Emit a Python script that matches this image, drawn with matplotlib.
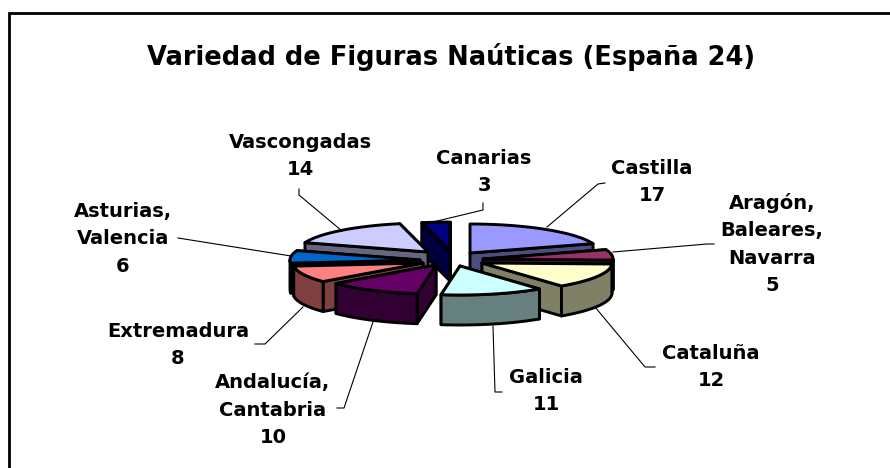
import numpy as np
import matplotlib
matplotlib.use("Agg")
import matplotlib.pyplot as plt
from matplotlib.patches import Polygon

# Data
names = ["Castilla", "Aragón,\nBaleares,\nNavarra", "Cataluña", "Galicia", "Andalucía,\nCantabria",
         "Extremadura", "Asturias,\nValencia", "Vascongadas", "Canarias"]
values = [17, 5, 12, 11, 10, 8, 6, 14, 3]
top_colors = ["#9999FF", "#993366", "#FFFFCC", "#CCFFFF", "#660066", "#FF8080", "#0066CC", "#CCCCFF", "#000080"]
wall_colors = ["#4D4D80", "#4D1A33", "#808066", "#668080", "#330033", "#804040", "#003366", "#666680", "#000040"]

# apex of each exploded slice, picture pixels
apex_x = [470, 483, 482, 460, 436, 423, 420, 428, 450]
apex_y = [253, 259, 263, 266, 265, 263, 260, 252, 251]
draw_order = [8, 0, 7, 6, 1, 5, 2, 4, 3]

label_x = [652, 772, 711, 546, 273, 178, 123, 300, 484]
label_y = [182, 244, 367, 391, 410, 345, 239, 156, 172]
leader_x = [[605, 598, 547], [714, 707, 613], [655, 645, 595], [502, 495, 493], [337, 344, 373],
            [255, 265, 303], [178, 291], [299, 299, 342], [483, 483, 433]]
leader_y = [[183, 184, 227], [244, 244, 252], [367, 367, 307], [392, 392, 326], [408, 408, 322],
            [344, 344, 307], [238, 256], [189, 195, 231], [203, 210, 222]]

RX, RY, DEPTH = 130, 29, 30

fig = plt.figure(figsize=(8.9, 4.68), dpi=100)
ax = fig.add_axes([0, 0, 1, 1])
ax.set_xlim(0, 890)
ax.set_ylim(468, 0)
ax.axis("off")

# the frame only shows on the top and left
ax.plot([8.5, 8.5, 890], [468, 12.5, 12.5], color="black", lw=2.0, solid_joinstyle="miter")


def rim(cx, cy, a0, a1):
    th = np.radians(np.linspace(a0, a1, 40))
    return cx + RX * np.sin(th), cy - RY * np.cos(th)


def face(xs, ys, color, z):
    ax.add_patch(Polygon(np.column_stack([xs, ys]), closed=True, fc=color, ec="black", lw=2.1,
                         joinstyle="round", zorder=z))


edges = np.concatenate([[0], np.cumsum(values)]) / sum(values) * 360
for rank, i in enumerate(draw_order):
    cx, cy = apex_x[i], apex_y[i]
    a0, a1 = edges[i], edges[i + 1]
    z = 2 + rank
    # cut walls, the one further back goes first
    cuts = sorted([a0, a1], key=lambda a: rim(cx, cy, a, a)[1][0])
    for a in cuts:
        x, y = rim(cx, cy, a, a)
        face([cx, x[0], x[0], cx], [cy, y[0], y[0] + DEPTH, cy + DEPTH], wall_colors[i], z)
    # outer wall, only what looks to the front
    lo, hi = max(a0, 90), min(a1, 270)
    if hi > lo:
        x, y = rim(cx, cy, lo, hi)
        face(np.r_[x, x[::-1]], np.r_[y, y[::-1] + DEPTH], wall_colors[i], z)
    x, y = rim(cx, cy, a0, a1)
    face(np.r_[cx, x], np.r_[cy, y], top_colors[i], z)

for xs, ys in zip(leader_x, leader_y):
    ax.plot(xs, ys, color="black", lw=0.8, zorder=20)

fnt = dict(family="DejaVu Sans", weight="bold", ha="center", va="center", color="black", zorder=30)
for name, val, x, y in zip(names, values, label_x, label_y):
    ax.text(x, y, name + "\n" + str(val), fontsize=14, linespacing=1.55, **fnt)

ax.text(451, 57, "Variedad de Figuras Naúticas (España 24)", fontsize=18.5, **fnt)

fig.savefig("out.png", dpi=100)
